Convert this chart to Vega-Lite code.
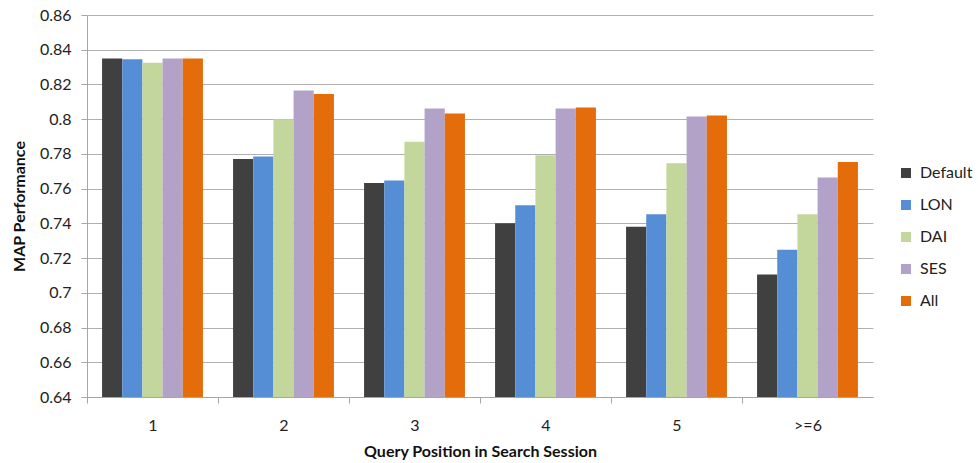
{
  "$schema": "https://vega.github.io/schema/vega-lite/v6.json",
  "autosize": {"type": "none"},
  "padding": {"left": 87, "top": 15, "right": 105, "bottom": 66},
  "width": 786,
  "height": 382,
  "background": "white",
  "data": {
    "values": [
      {"pos": "1", "method": "Default", "map": 0.835},
      {"pos": "1", "method": "LON", "map": 0.8345},
      {"pos": "1", "method": "DAI", "map": 0.8325},
      {"pos": "1", "method": "SES", "map": 0.835},
      {"pos": "1", "method": "All", "map": 0.835},
      {"pos": "2", "method": "Default", "map": 0.777},
      {"pos": "2", "method": "LON", "map": 0.7785},
      {"pos": "2", "method": "DAI", "map": 0.800},
      {"pos": "2", "method": "SES", "map": 0.8165},
      {"pos": "2", "method": "All", "map": 0.8145},
      {"pos": "3", "method": "Default", "map": 0.7633},
      {"pos": "3", "method": "LON", "map": 0.7647},
      {"pos": "3", "method": "DAI", "map": 0.787},
      {"pos": "3", "method": "SES", "map": 0.8062},
      {"pos": "3", "method": "All", "map": 0.8033},
      {"pos": "4", "method": "Default", "map": 0.740},
      {"pos": "4", "method": "LON", "map": 0.7505},
      {"pos": "4", "method": "DAI", "map": 0.7792},
      {"pos": "4", "method": "SES", "map": 0.8062},
      {"pos": "4", "method": "All", "map": 0.8067},
      {"pos": "5", "method": "Default", "map": 0.738},
      {"pos": "5", "method": "LON", "map": 0.7452},
      {"pos": "5", "method": "DAI", "map": 0.7746},
      {"pos": "5", "method": "SES", "map": 0.8015},
      {"pos": "5", "method": "All", "map": 0.8021},
      {"pos": ">=6", "method": "Default", "map": 0.7106},
      {"pos": ">=6", "method": "LON", "map": 0.7248},
      {"pos": ">=6", "method": "DAI", "map": 0.7452},
      {"pos": ">=6", "method": "SES", "map": 0.7664},
      {"pos": ">=6", "method": "All", "map": 0.7754}
    ]
  },
  "mark": {"type": "bar", "clip": true},
  "encoding": {
    "x": {
      "field": "pos",
      "type": "nominal",
      "sort": ["1", "2", "3", "4", "5", ">=6"],
      "scale": {"paddingInner": 0.23, "paddingOuter": 0.115},
      "axis": {
        "title": "Query Position in Search Session",
        "labelAngle": 0,
        "tickOffset": -65.5,
        "labelOffset": 65.5,
        "tickSize": 6,
        "labelPadding": 14,
        "titlePadding": 10
      }
    },
    "xOffset": {
      "field": "method",
      "type": "nominal",
      "sort": ["Default", "LON", "DAI", "SES", "All"],
      "scale": {"paddingInner": 0, "paddingOuter": 0}
    },
    "y": {
      "field": "map",
      "type": "quantitative",
      "scale": {"domain": [0.64, 0.86], "zero": false, "nice": false},
      "axis": {
        "title": "MAP Performance",
        "values": [0.64, 0.66, 0.68, 0.7, 0.72, 0.74, 0.76, 0.78, 0.8, 0.82, 0.84, 0.86],
        "format": "~g",
        "tickSize": 6,
        "labelPadding": 10,
        "titlePadding": 12
      }
    },
    "color": {
      "field": "method",
      "type": "nominal",
      "sort": ["Default", "LON", "DAI", "SES", "All"],
      "scale": {
        "domain": ["Default", "LON", "DAI", "SES", "All"],
        "range": ["#404040", "#558ED5", "#C3D69B", "#B3A2C7", "#E46C0A"]
      },
      "legend": {
        "title": null,
        "orient": "none",
        "legendX": 811,
        "legendY": 150,
        "symbolType": "square",
        "symbolSize": 100,
        "symbolStrokeWidth": 0,
        "labelFontSize": 16,
        "rowPadding": 16,
        "labelOffset": 6
      }
    }
  },
  "config": {
    "font": "Lato",
    "view": {"stroke": null},
    "axis": {
      "labelFont": "Lato",
      "labelFontSize": 16,
      "labelColor": "#222222",
      "titleFont": "Lato",
      "titleFontSize": 16,
      "titleFontWeight": "bold",
      "titleColor": "#111111",
      "domainColor": "#A6A6A6",
      "tickColor": "#A6A6A6",
      "gridColor": "#B0B0B0",
      "gridOpacity": 1
    },
    "axisX": {"grid": false},
    "axisY": {"grid": true},
    "legend": {"labelFont": "Lato", "labelColor": "#222222"}
  }
}
